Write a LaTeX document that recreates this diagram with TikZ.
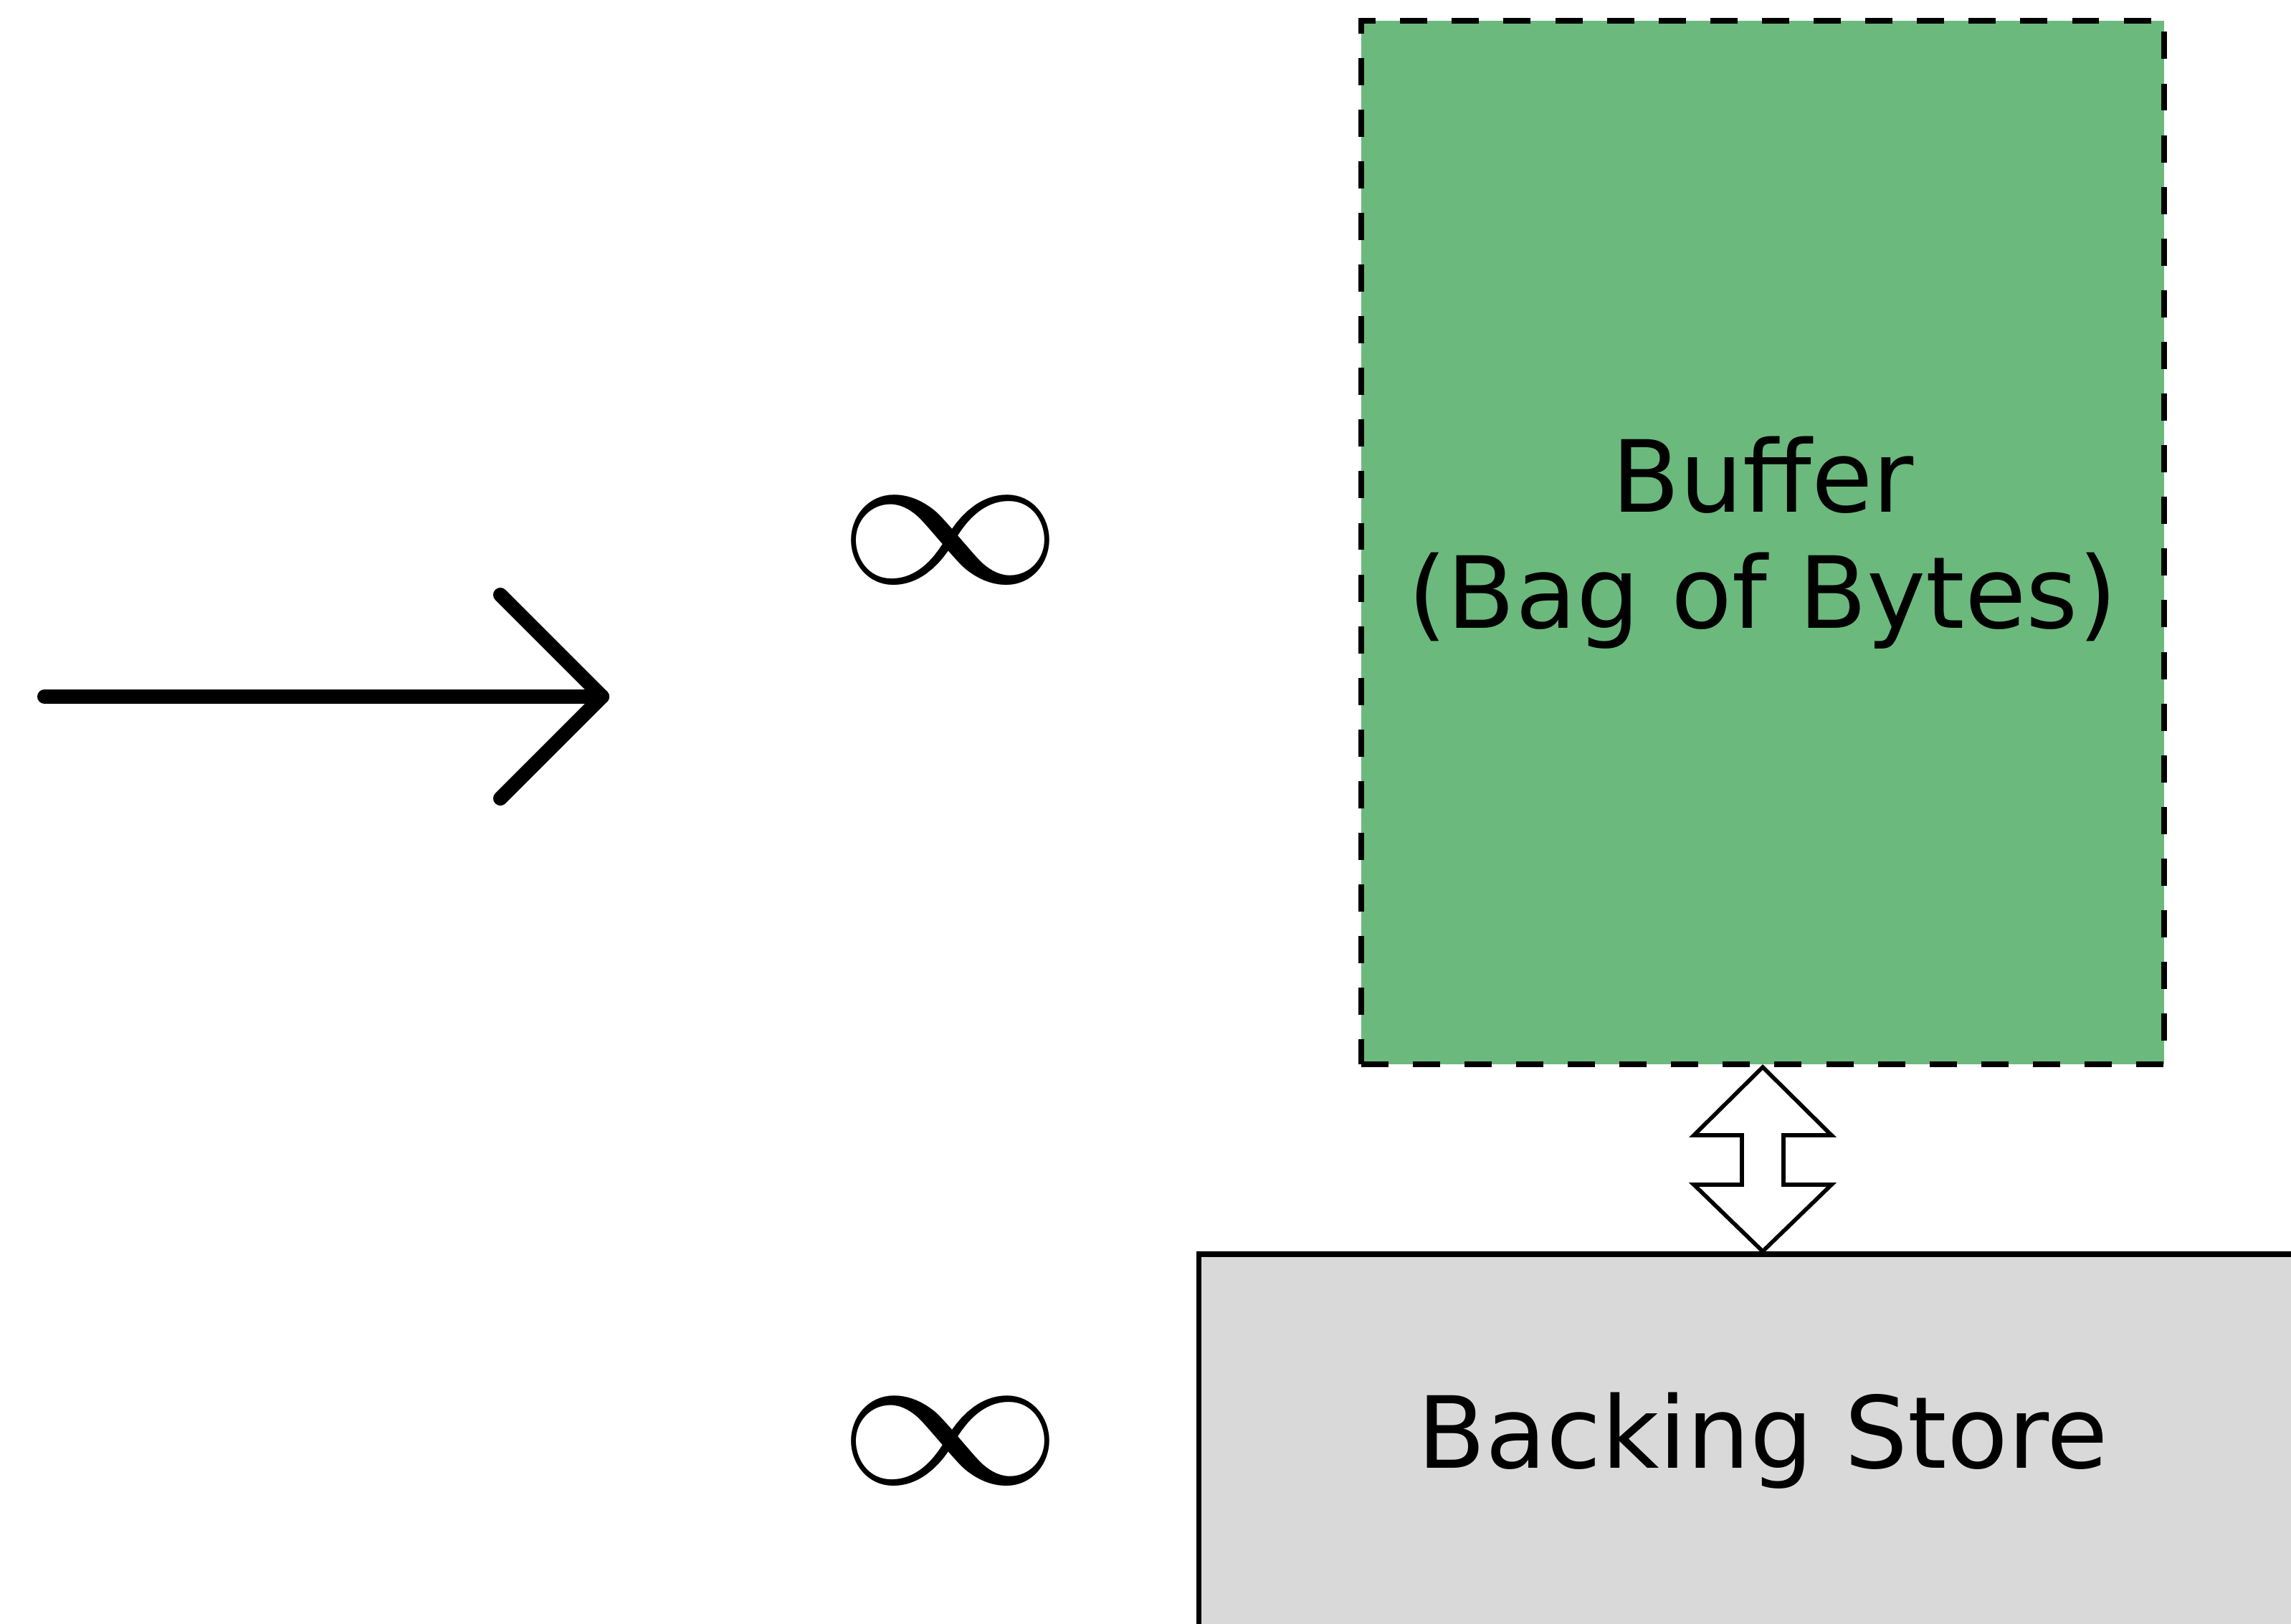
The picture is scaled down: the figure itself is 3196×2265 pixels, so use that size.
\RequirePackage{fix-cm}
\documentclass[tikz,border=0pt]{standalone}
\usepackage{fontspec}
\setmainfont{DejaVu Sans}
\usepackage{xcolor}
\usepackage{tikz}
\usetikzlibrary{calc}

\definecolor{buffergreen}{RGB}{107,185,125}
\definecolor{storegray}{RGB}{217,217,217}

\begin{document}
\begin{tikzpicture}[x=0.01cm, y=-0.01cm,
    every node/.style={inner sep=0pt, align=center, font=\fontsize{39.5}{46}\selectfont},
    bufferbox/.style={draw=black, fill=buffergreen, line width=2.3pt,
        dash pattern=on 10.8pt off 9.7pt, minimum width=11.2cm, minimum height=14.55cm},
    storebox/.style={draw=black, fill=storegray, line width=2.2pt,
        minimum width=15.72cm, minimum height=5.2cm},
    infty/.style={font=\fontsize{79}{80}\selectfont},
    bigarrow/.style={line width=5.7pt, line cap=round, line join=round},
    fatarrow/.style={draw=black, fill=white, line width=1.6pt, line join=miter}]
    \useasboundingbox (0,0) rectangle (3196,2265);
    \clip (0,0) rectangle (3196,2265);

            \node[bufferbox] (buffer) at (2459,757) {Buffer\\(Bag of Bytes)};
            \node[storebox] (store) at (2459,2010) {Backing Store};

            \node[infty] (inftop) at (1326,754) {\scalebox{1.12}[1]{$\infty$}};
            \node[infty] (infbot) at (1326,2011) {\scalebox{1.12}[1]{$\infty$}};

            % arrow on the left
            \coordinate (src) at (62,972);
            \coordinate (dst) at (840,972);
            \draw[bigarrow] (src) -- (dst);
            \draw[bigarrow] ($(dst)+(-142,-142)$) -- (dst) -- ($(dst)+(-142,142)$);

            % double arrow between buffer and store
            \draw[fatarrow] (buffer.south)
                -- ++(96,95) -- ++(-67,0)
                -- ($(store.north)+(29,-93)$) -- ++(67,0)
                -- (store.north)
                -- ++(-96,-93) -- ++(67,0)
                -- ($(buffer.south)+(-29,95)$) -- ++(-67,0) -- cycle;
        \end{tikzpicture}
\end{document}
